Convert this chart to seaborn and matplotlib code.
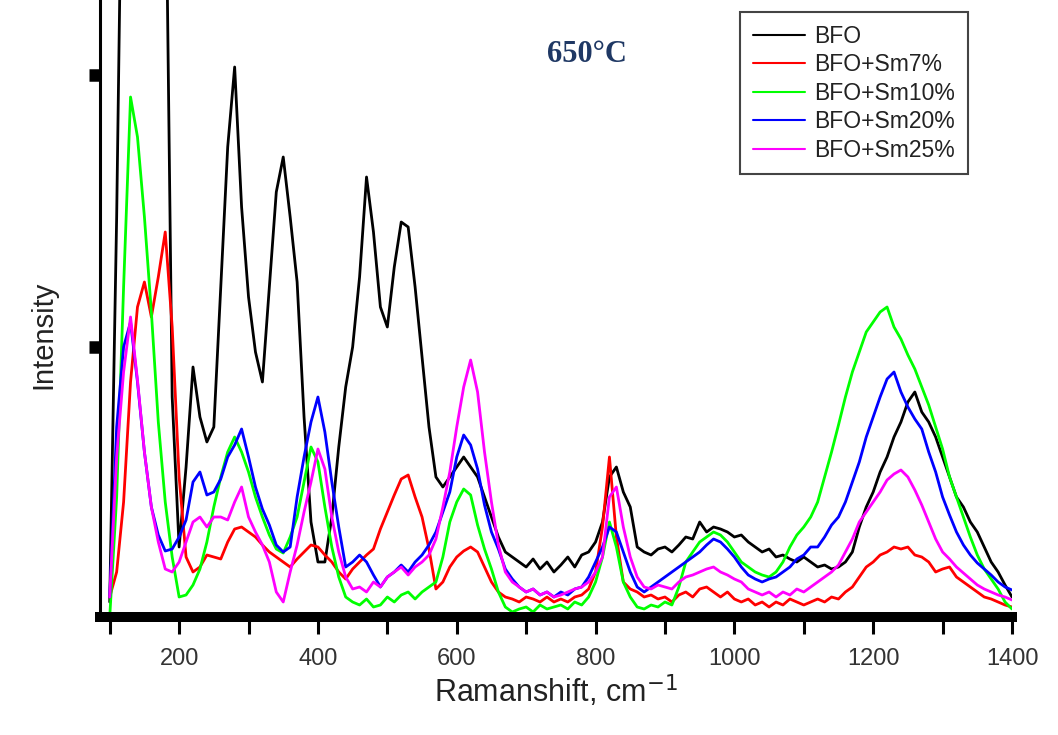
import pandas as pd
import seaborn as sns
import matplotlib.pyplot as plt

# Raman shift grid, cm-1
shift = list(range(100, 1410, 10))

# intensities (a.u.), one value per 10 cm-1
bfo = [15, 400, 900, 1100, 1200, 1200, 1150, 1050, 800, 220,
       70, 150, 250, 200, 175, 190, 330, 470, 550, 410,
       320, 265, 235, 330, 425, 460, 400, 335, 200, 95,
       55, 55, 100, 170, 230, 270, 340, 440, 385, 310,
       290, 350, 395, 390, 330, 260, 190, 140, 130, 140,
       150, 160, 150, 140, 120, 100, 80, 65, 60, 55,
       50, 58, 48, 55, 45, 52, 60, 50, 62, 65,
       75, 95, 140, 150, 125, 110, 70, 65, 62, 68,
       70, 65, 72, 80, 78, 95, 85, 90, 88, 85,
       80, 82, 75, 70, 65, 68, 60, 62, 58, 55,
       60, 55, 50, 52, 48, 50, 55, 65, 90, 110,
       125, 145, 160, 180, 195, 215, 225, 205, 195, 180,
       160, 140, 120, 110, 95, 85, 70, 55, 45, 32,
       20]
sm7 = [20, 45, 115, 235, 310, 335, 300, 340, 385, 290,
       140, 60, 45, 50, 62, 60, 58, 75, 88, 90,
       85, 80, 72, 65, 60, 55, 50, 58, 65, 72,
       70, 62, 55, 45, 38, 48, 55, 62, 68, 88,
       105, 122, 138, 142, 120, 100, 68, 28, 35, 50,
       60, 66, 70, 65, 50, 35, 25, 20, 18, 15,
       20, 18, 15, 20, 15, 18, 15, 20, 22, 28,
       45, 90, 160, 80, 35, 28, 25, 20, 22, 18,
       20, 15, 22, 25, 20, 28, 30, 25, 20, 25,
       18, 15, 18, 12, 15, 10, 15, 12, 18, 15,
       12, 15, 18, 15, 20, 18, 25, 30, 40, 50,
       55, 62, 65, 70, 68, 70, 62, 60, 55, 45,
       48, 50, 40, 35, 30, 25, 20, 18, 15, 12,
       10]
sm10 = [0, 120, 330, 520, 480, 400, 305, 195, 115, 60,
        20, 22, 32, 48, 75, 110, 140, 165, 180, 165,
        145, 120, 100, 82, 68, 64, 80, 100, 135, 170,
        155, 110, 70, 40, 20, 15, 12, 18, 10, 12,
        20, 15, 22, 25, 18, 25, 30, 35, 60, 95,
        115, 128, 122, 92, 68, 48, 25, 10, 5, 8,
        10, 5, 12, 8, 10, 12, 8, 15, 12, 20,
        35, 60, 95, 70, 35, 20, 10, 8, 12, 10,
        15, 12, 30, 55, 65, 75, 80, 85, 82, 75,
        65, 55, 50, 45, 42, 40, 45, 55, 70, 82,
        90, 100, 115, 140, 165, 192, 220, 245, 265, 285,
        295, 305, 310, 290, 278, 262, 248, 230, 212, 190,
        168, 140, 120, 100, 80, 62, 48, 38, 28, 15,
        8]
sm20 = [20, 190, 270, 295, 235, 165, 110, 82, 66, 68,
        80, 97, 135, 145, 122, 125, 138, 160, 172, 188,
        160, 130, 108, 92, 72, 65, 70, 120, 160, 195,
        220, 185, 135, 90, 50, 55, 62, 55, 42, 30,
        40, 45, 52, 45, 55, 62, 72, 85, 105, 125,
        160, 182, 172, 148, 112, 85, 68, 48, 38, 30,
        25, 28, 22, 25, 20, 25, 22, 28, 30, 40,
        55, 70, 90, 85, 65, 45, 30, 25, 30, 35,
        40, 45, 50, 55, 60, 65, 72, 78, 75, 68,
        60, 50, 42, 38, 35, 38, 40, 45, 50, 58,
        62, 70, 70, 80, 92, 100, 115, 135, 155, 180,
        200, 220, 238, 245, 225, 210, 198, 188, 165, 145,
        120, 102, 85, 72, 62, 54, 48, 42, 35, 30,
        27]
sm25 = [20, 160, 245, 300, 237, 165, 110, 75, 48, 45,
        55, 75, 95, 100, 90, 100, 100, 97, 115, 130,
        100, 85, 72, 55, 25, 15, 45, 72, 105, 135,
        168, 148, 100, 65, 40, 28, 30, 25, 35, 30,
        40, 45, 50, 42, 50, 55, 62, 78, 110, 145,
        190, 230, 257, 225, 165, 115, 72, 45, 35, 30,
        25, 28, 22, 25, 20, 22, 25, 28, 30, 35,
        45, 60, 120, 130, 90, 60, 40, 30, 28, 32,
        30, 28, 35, 40, 42, 45, 48, 50, 45, 42,
        38, 35, 28, 25, 22, 25, 20, 25, 22, 28,
        25, 30, 35, 40, 45, 52, 65, 78, 95, 105,
        115, 125, 137, 143, 147, 140, 127, 112, 95, 78,
        65, 58, 50, 44, 38, 32, 28, 25, 22, 20,
        17]

labels = ['BFO', 'BFO+Sm7%', 'BFO+Sm10%', 'BFO+Sm20%', 'BFO+Sm25%']
colors = ['#000000', '#ff0000', '#00ff00', '#0000ff', '#ff00ff']

df = pd.DataFrame({'shift': shift, labels[0]: bfo, labels[1]: sm7, labels[2]: sm10,
                   labels[3]: sm20, labels[4]: sm25})
df = df.melt(id_vars='shift', var_name='sample', value_name='intensity')

sns.set_style('white')
plt.rcParams['font.family'] = ['Liberation Sans', 'DejaVu Sans']

fig = plt.figure(figsize=(10.58, 7.35), dpi=100)
ax = fig.add_axes([100 / 1058, 118 / 735, 912 / 1058, 617 / 735])

sns.lineplot(data=df, x='shift', y='intensity', hue='sample', hue_order=labels,
             palette=dict(zip(labels, colors)), estimator=None, linewidth=2.0, ax=ax)

ax.set_xlim(86, 1400)
ax.set_ylim(0, 617)

ax.spines['top'].set_visible(False)
ax.spines['right'].set_visible(False)
ax.spines['left'].set_linewidth(2.2)
ax.spines['left'].set_color('black')
ax.spines['bottom'].set_linewidth(7.2)
ax.spines['bottom'].set_color('black')
ax.spines['bottom'].set_capstyle('projecting')

ax.set_xticks(range(200, 1401, 200))
ax.set_xticks(range(100, 1400, 200), minor=True)
ax.tick_params(axis='x', which='both', bottom=True, direction='out', length=12, width=2.2,
               color='black', labelcolor='#333333', labelsize=17, pad=10)
ax.set_yticks([270, 542])
ax.set_yticklabels([])
ax.tick_params(axis='y', left=True, direction='out', length=8, width=9, color='black')

ax.set_xlabel('Ramanshift, cm$^{-1}$', fontsize=22, color='#222222')
ax.xaxis.set_label_coords(0.5, -0.09)
ax.set_ylabel('Intensity', fontsize=21, color='#222222')
ax.yaxis.set_label_coords(-0.047, 0.457)

handles, names = ax.get_legend_handles_labels()
leg = ax.legend(handles, names, loc='upper left', bbox_to_anchor=(740 / 1058, 1 - 12 / 735),
                bbox_transform=fig.transFigure, borderaxespad=0, fontsize=16.5,
                labelspacing=0.24, handlelength=2.3, handletextpad=0.4, borderpad=0.55,
                fancybox=False, edgecolor='#444444', framealpha=1)
leg.get_frame().set_linewidth(1.5)
for line in leg.get_lines():
    line.set_linewidth(1.5)
for t in leg.get_texts():
    t.set_color('#222222')

fig.text(587 / 1058, 1 - 55 / 735, '650°C', ha='center', va='center', fontsize=22,
         fontweight='bold', family='Liberation Serif', color='#1f3864')

fig.savefig('out.png', dpi=100)
